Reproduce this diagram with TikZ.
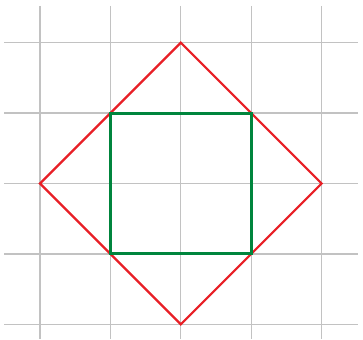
\documentclass[tikz,border=0pt]{standalone}
\newlength{\du}
\setlength{\du}{1pt}
\begin{document}
\begin{tikzpicture}
\pgftransformxscale{1.000000}
\pgftransformyscale{-1.000000}
\useasboundingbox (0\du,0\du) rectangle (363\du,339\du);
% grid
\definecolor{dialinecolor}{rgb}{0.760000, 0.760000, 0.760000}
\pgfsetstrokecolor{dialinecolor}
\pgfsetlinewidth{1.300000\du}
\pgfsetdash{}{0pt}
\foreach \x in {40.0,110.4,180.8,251.2,321.6}{
\pgfpathmoveto{\pgfpoint{\x\du}{6.000000\du}}
\pgfpathlineto{\pgfpoint{\x\du}{339.000000\du}}
\pgfusepath{stroke}
}
\foreach \y in {42.7,113.1,183.5,253.9,324.3}{
\pgfpathmoveto{\pgfpoint{4.000000\du}{\y\du}}
\pgfpathlineto{\pgfpoint{358.000000\du}{\y\du}}
\pgfusepath{stroke}
}
% diamond
\definecolor{dialinecolor}{rgb}{0.910000, 0.120000, 0.150000}
\pgfsetstrokecolor{dialinecolor}
\pgfsetlinewidth{2.200000\du}
\pgfsetmiterjoin
\pgfpathmoveto{\pgfpoint{180.800000\du}{42.700000\du}}
\pgfpathlineto{\pgfpoint{321.600000\du}{183.500000\du}}
\pgfpathlineto{\pgfpoint{180.800000\du}{324.300000\du}}
\pgfpathlineto{\pgfpoint{40.000000\du}{183.500000\du}}
\pgfpathclose
\pgfusepath{stroke}
% square
\definecolor{dialinecolor}{rgb}{0.000000, 0.520000, 0.240000}
\pgfsetstrokecolor{dialinecolor}
\pgfsetlinewidth{3.000000\du}
\pgfpathrectanglecorners{\pgfpoint{110.400000\du}{113.100000\du}}{\pgfpoint{251.200000\du}{253.900000\du}}
\pgfusepath{stroke}
\end{tikzpicture}
\end{document}
